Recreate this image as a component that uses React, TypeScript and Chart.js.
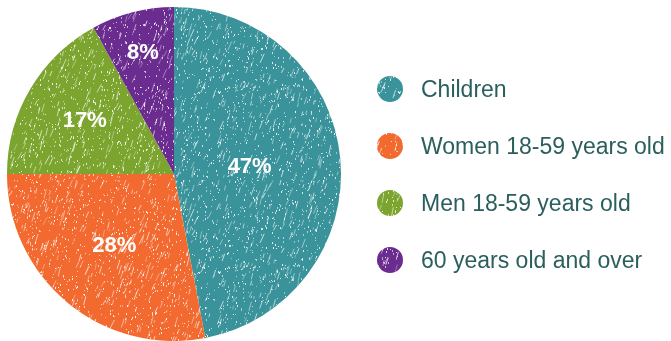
import React, { useEffect, useRef } from "react";
import { Chart, registerables } from "chart.js";

Chart.register(...registerables);

const categories = ["Children", "Women 18-59 years old", "Men 18-59 years old", "60 years old and over"];
const shares = [47, 28, 17, 8];
const sliceColors = ["#3a939a", "#f26a30", "#7ca52f", "#6b2c8f"];
const labelRadius = [0.455, 0.56, 0.62, 0.75];

function makePattern(color: string, seed: number): CanvasPattern | string {
  const c = document.createElement("canvas");
  c.width = 180;
  c.height = 180;
  const g = c.getContext("2d");
  if (!g) return color;
  g.fillStyle = color;
  g.fillRect(0, 0, 180, 180);
  let s = seed >>> 0;
  const rnd = () => {
    s = (Math.imul(s, 1664525) + 1013904223) >>> 0;
    return s / 4294967296;
  };
  g.lineWidth = 1;
  for (let i = 0; i < 330; i++) {
    const x = rnd() * 180;
    const y = rnd() * 180;
    const len = 2 + rnd() * 8;
    const a = (70 + (rnd() - 0.5) * 18) * Math.PI / 180;
    g.strokeStyle = `rgba(255,255,255,${0.3 + rnd() * 0.4})`;
    g.beginPath();
    g.moveTo(x, y);
    g.lineTo(x + Math.cos(a) * len, y - Math.sin(a) * len);
    g.stroke();
  }
  for (let i = 0; i < 1000; i++) {
    const x = Math.floor(rnd() * 180);
    const y = Math.floor(rnd() * 180);
    g.fillStyle = `rgba(255,255,255,${0.4 + rnd() * 0.5})`;
    g.fillRect(x, y, 1, 1 + Math.floor(rnd() * 2));
  }
  const p = g.createPattern(c, "repeat");
  return p || color;
}

export default function App() {
  const ref = useRef<HTMLCanvasElement>(null);
  useEffect(() => {
    document.body.style.margin = "0";
    const canvas = ref.current;
    if (!canvas) return;
    const patterns = sliceColors.map((c, i) => makePattern(c, 1234 + i * 977));

    const labelPlugin = {
      id: "sliceLabels",
      afterDatasetsDraw(chart: any) {
        const ctx = chart.ctx;
        const meta = chart.getDatasetMeta(0);
        ctx.save();
        ctx.fillStyle = "#ffffff";
        ctx.font = "bold 22px 'Liberation Sans', Arial, sans-serif";
        ctx.textAlign = "center";
        ctx.textBaseline = "middle";
        meta.data.forEach((arc: any, i: number) => {
          const p = arc.getProps(["x", "y", "startAngle", "endAngle", "outerRadius"], true);
          const mid = (p.startAngle + p.endAngle) / 2;
          const r = p.outerRadius * labelRadius[i];
          ctx.fillText(`${shares[i]}%`, p.x + Math.cos(mid) * r, p.y + Math.sin(mid) * r);
        });
        ctx.restore();
      },
    };

    const legendPlugin = {
      id: "sideLegend",
      afterDraw(chart: any) {
        const ctx = chart.ctx;
        ctx.save();
        const x0 = 390;
        const y0 = 89;
        const step = 57;
        categories.forEach((name, i) => {
          const cy = y0 + i * step;
          ctx.fillStyle = patterns[i];
          ctx.beginPath();
          ctx.arc(x0, cy, 13, 0, Math.PI * 2);
          ctx.fill();
          ctx.fillStyle = "#2b5f5e";
          ctx.font = "23px 'Liberation Sans', Arial, sans-serif";
          ctx.textAlign = "left";
          ctx.textBaseline = "alphabetic";
          ctx.fillText(name, x0 + 31, cy + 8);
        });
        ctx.restore();
      },
    };

    const chart = new Chart(canvas, {
      type: "pie",
      data: {
        labels: categories,
        datasets: [
          {
            data: shares,
            backgroundColor: patterns as any,
            borderWidth: 0,
          },
        ],
      },
      options: {
        responsive: false,
        animation: false,
        layout: { padding: { left: 7, right: 330, top: 7, bottom: 0 } },
        plugins: {
          legend: { display: false },
          tooltip: { enabled: false },
        },
      },
      plugins: [labelPlugin, legendPlugin],
    });
    return () => chart.destroy();
  }, []);

  return (
    <div style={{ width: 671, height: 341 }}>
      <canvas ref={ref} width={671} height={341} />
    </div>
  );
}
